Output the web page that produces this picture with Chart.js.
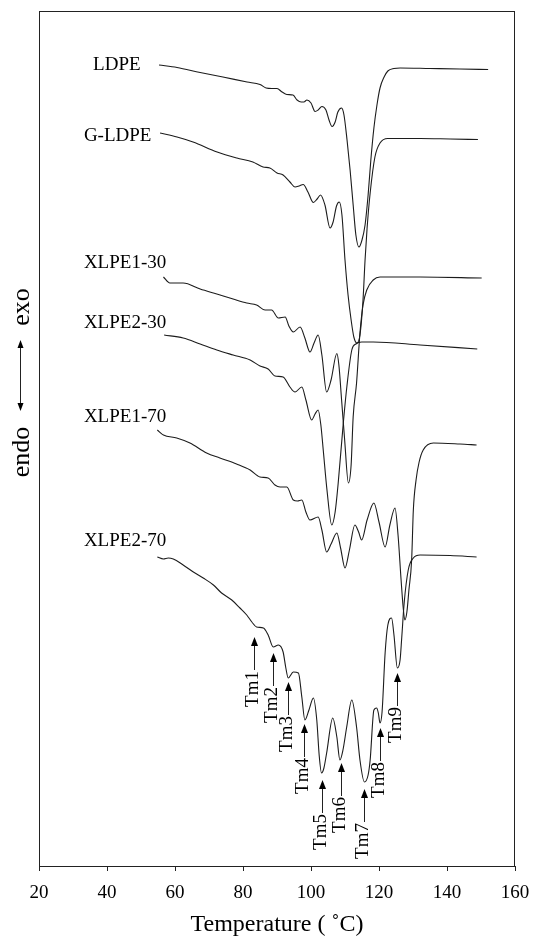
<!DOCTYPE html>
<html>
<head>
<meta charset="utf-8">
<script src="https://cdn.jsdelivr.net/npm/chart.js@4/dist/chart.umd.min.js"></script>
<style>
  html, body { margin: 0; padding: 0; background: #fff; }
  #wrap { width: 534px; height: 939px; }
</style>
</head>
<body>
<div id="wrap"><canvas id="dsc"></canvas></div>
<script>
// DSC melting traces, heat flow in arbitrary units (endo down)
const seriesNames = ["LDPE", "G-LDPE", "XLPE1-30", "XLPE2-30", "XLPE1-70", "XLPE2-70"];

const tempLDPE = [55.3, 60.6, 67.4, 74.1, 81.2, 85.0, 86.8, 88.5, 90.0, 91.5, 92.9, 94.7, 95.9, 97.1, 97.9, 98.8, 100.0, 101.2, 102.1, 103.2, 104.4, 105.3, 106.2, 107.1, 107.9, 109.0, 109.7, 110.6, 111.5, 112.4, 113.2, 114.1, 115.0, 115.9, 116.8, 117.6, 118.5, 119.4, 120.3, 121.5, 122.6, 124.4, 126.2, 135.0, 143.8, 152.1];
const flowLDPE = [801, 798.5, 793.5, 789, 784, 781.5, 778, 777.5, 777.5, 774, 771.5, 771, 766, 764, 764, 766, 763, 754.5, 756, 759.5, 756, 746, 739.5, 744, 754, 758, 751, 726, 696, 661, 631, 619, 626, 641, 671, 706, 738, 761, 778, 789, 795, 797.5, 798, 797.5, 797, 796.5];

const tempGLDPE = [55.6, 60.6, 65.3, 72.4, 78.2, 82.9, 85.9, 87.9, 90.0, 91.8, 93.8, 95.3, 96.5, 97.7, 99.1, 100.7, 101.8, 102.8, 104.1, 105.6, 106.5, 107.5, 108.3, 109.1, 110.0, 110.9, 111.8, 112.6, 113.5, 114.4, 115.3, 115.9, 116.5, 117.4, 118.8, 120.3, 122.6, 132.1, 140.9, 149.1];
const flowGLDPE = [733, 729, 724, 714, 708, 704, 699, 698, 693, 691, 684, 679, 680, 681.5, 674, 663.5, 667, 671, 661, 638, 644, 660, 664, 651, 606, 571, 546, 529, 523, 531, 566, 606, 638, 673, 709, 723, 727.5, 727.5, 727, 726.5];

const tempX130 = [56.6, 58.5, 62.4, 67.4, 72.3, 77.1, 81.1, 84.0, 86.5, 88.4, 90.4, 92.4, 93.5, 94.8, 96.8, 98.2, 99.7, 100.9, 102.1, 103.2, 104.6, 105.9, 107.6, 108.2, 109.0, 109.9, 111.0, 111.8, 112.4, 113.4, 114.4, 115.3, 116.4, 118.3, 120.3, 132.1, 150.2];
const flowX130 = [589, 583, 583, 577, 572, 567, 563, 561, 556, 556, 548, 549, 540, 534, 539, 528, 514, 523, 531, 511, 474, 486, 512.5, 501, 466, 426, 383, 401, 449, 483, 533, 561, 576, 586, 589, 589, 588];

const tempX230 = [56.8, 62.4, 67.4, 72.3, 77.1, 82.1, 85.0, 87.4, 89.4, 91.8, 93.8, 95.3, 97.3, 98.5, 100.2, 101.2, 102.1, 102.9, 103.6, 104.7, 106.1, 107.1, 108.0, 109.5, 110.6, 112.0, 113.2, 114.9, 118.3, 132.1, 148.9];
const flowX230 = [531, 528, 522, 516, 511, 506, 500, 497, 490, 489, 479, 474, 479, 466, 446, 452, 456, 441, 416, 376, 341, 354, 383, 443, 481, 516, 522, 524, 524, 521, 517];

const tempX170 = [54.8, 56.6, 60.5, 64.4, 69.3, 73.2, 78.1, 82.1, 85.0, 87.4, 89.4, 90.9, 92.9, 94.8, 96.0, 97.3, 98.5, 99.7, 102.1, 103.2, 104.6, 105.9, 107.6, 108.7, 110.0, 111.3, 112.9, 114.0, 114.9, 116.5, 118.5, 120.0, 121.8, 123.2, 124.7, 125.6, 126.5, 127.1, 127.6, 128.2, 128.8, 129.6, 130.1, 130.9, 131.8, 133.0, 136.0, 143.8, 148.7];
const flowX170 = [436, 431, 428, 423, 413, 408, 402, 396, 389, 388, 381, 379, 379, 366, 365, 366, 354, 346, 349, 336, 314, 322, 333, 318, 298, 316, 341, 334, 326, 346, 363, 344, 319, 341, 358, 331, 286, 259, 246, 254, 276, 306, 356, 386, 404, 416, 423, 422, 421];

const tempX270 = [54.8, 56.6, 58.0, 59.5, 62.4, 65.4, 68.3, 71.3, 73.7, 76.7, 79.1, 81.1, 82.6, 84.0, 86.0, 87.4, 88.9, 90.4, 91.8, 92.6, 93.3, 94.8, 96.3, 97.3, 98.2, 99.4, 100.7, 101.7, 102.4, 103.1, 103.8, 104.6, 106.4, 107.6, 108.5, 109.4, 110.5, 112.0, 113.4, 114.4, 115.7, 116.8, 117.4, 118.5, 119.3, 119.8, 120.3, 120.9, 121.8, 122.6, 123.7, 124.4, 125.4, 126.2, 126.7, 127.4, 128.6, 130.1, 132.1, 140.9, 148.7];
const flowX270 = [309, 307, 308, 307, 301, 294, 288, 281, 273, 266, 258, 251, 244, 239, 238, 231, 219, 221, 214, 198, 188, 194, 193, 169, 146, 156, 168, 146, 111, 93, 98, 113, 148, 129, 106, 116, 139, 166, 139, 106, 84, 91, 106, 156, 158, 153, 143, 154, 213, 241, 248, 231, 198, 206, 229, 263, 296, 308, 311, 310.5, 309];

// melting peaks marked on XLPE2-70 (arrow tip position)
const tmNames = ["Tm1", "Tm2", "Tm3", "Tm4", "Tm5", "Tm6", "Tm7", "Tm8", "Tm9"];
const tmTemp = [83.3, 88.9, 93.3, 97.9, 103.1, 108.7, 115.6, 120.3, 125.4];
const tmFlow = [229, 213, 184, 142, 86, 103, 77, 138, 193];

const xTicks = [20, 40, 60, 80, 100, 120, 140, 160];

const serif = "'Liberation Serif', 'Times New Roman', serif";

// label anchors (left edge, text middle) in data units
const labelAt = [[35.9, 802], [33.2, 731], [33.2, 604], [33.2, 544], [33.2, 450], [33.2, 326]];

function pts(t, q) {
  return t.map((v, i) => ({ x: v, y: q[i] }));
}

const curves = [
  pts(tempLDPE, flowLDPE),
  pts(tempGLDPE, flowGLDPE),
  pts(tempX130, flowX130),
  pts(tempX230, flowX230),
  pts(tempX170, flowX170),
  pts(tempX270, flowX270)
];

const decorate = {
  id: "decorate",
  afterDraw(chart) {
    const { ctx, chartArea: a, scales: { x, y } } = chart;
    ctx.save();

    // frame
    ctx.strokeStyle = "#222";
    ctx.lineWidth = 1;
    ctx.strokeRect(a.left + 0.5, a.top + 0.5, a.width - 1, a.height);

    ctx.fillStyle = "#000";

    // curve names
    ctx.font = "19px " + serif;
    ctx.textAlign = "left";
    ctx.textBaseline = "alphabetic";
    seriesNames.forEach((name, i) => {
      ctx.fillText(name, x.getPixelForValue(labelAt[i][0]), y.getPixelForValue(labelAt[i][1]) + 6);
    });

    // Tm arrows
    tmNames.forEach((name, i) => {
      const px = Math.round(x.getPixelForValue(tmTemp[i])) + 0.5;
      const tip = y.getPixelForValue(tmFlow[i]);
      ctx.beginPath();
      ctx.moveTo(px, tip + 6);
      ctx.lineTo(px, tip + 33);
      ctx.stroke();
      ctx.beginPath();
      ctx.moveTo(px, tip);
      ctx.lineTo(px - 3.5, tip + 9);
      ctx.lineTo(px + 3.5, tip + 9);
      ctx.closePath();
      ctx.fill();
      ctx.save();
      ctx.translate(px + 3, tip + 34);
      ctx.rotate(-Math.PI / 2);
      ctx.textAlign = "right";
      ctx.fillText(name, 0, 0);
      ctx.restore();
    });

    // vertical axis caption: endo <-> exo
    ctx.font = "26px " + serif;
    const cx = 29;
    ctx.save();
    ctx.translate(cx, 452);
    ctx.rotate(-Math.PI / 2);
    ctx.textAlign = "center";
    ctx.fillText("endo", 0, 0);
    ctx.restore();
    ctx.save();
    ctx.translate(cx, 307);
    ctx.rotate(-Math.PI / 2);
    ctx.textAlign = "center";
    ctx.fillText("exo", 0, 0);
    ctx.restore();
    const ax = 20.5, top = 340, bot = 411;
    ctx.beginPath();
    ctx.moveTo(ax, top + 5);
    ctx.lineTo(ax, bot - 5);
    ctx.stroke();
    [[top, 1], [bot, -1]].forEach(([yy, d]) => {
      ctx.beginPath();
      ctx.moveTo(ax, yy);
      ctx.lineTo(ax - 3, yy + d * 8);
      ctx.lineTo(ax + 3, yy + d * 8);
      ctx.closePath();
      ctx.fill();
    });

    ctx.restore();
  }
};

new Chart(document.getElementById("dsc"), {
  type: "scatter",
  data: {
    datasets: curves.map((c, i) => ({
      label: seriesNames[i],
      data: c,
      showLine: true,
      borderColor: "#1c1c1c",
      borderWidth: 1.1,
      pointRadius: 0,
      cubicInterpolationMode: "monotone"
    }))
  },
  options: {
    responsive: true,
    maintainAspectRatio: false,
    animation: false,
    layout: { padding: { left: 39, right: 19, top: 11, bottom: 0 } },
    plugins: {
      legend: { display: false },
      tooltip: { enabled: false }
    },
    scales: {
      x: {
        type: "linear",
        min: 20,
        max: 160,
        afterBuildTicks: (s) => { s.ticks = xTicks.map((v) => ({ value: v })); },
        afterFit: (s) => {
          s.height = 73;
          s.paddingLeft = 0;
          s.paddingRight = 0;
        },
        border: { display: false },
        grid: { drawOnChartArea: false, drawTicks: true, tickLength: 5, color: "#222" },
        ticks: { color: "#000", padding: 11, maxRotation: 0, font: { family: serif, size: 19 } },
        title: {
          display: true,
          text: "Temperature ( ˚C)",
          color: "#000",
          font: { family: serif, size: 24 },
          padding: { top: 0, bottom: 0 }
        }
      },
      y: {
        display: false,
        min: 0,
        max: 855
      }
    }
  },
  plugins: [decorate]
});
</script>
</body>
</html>
